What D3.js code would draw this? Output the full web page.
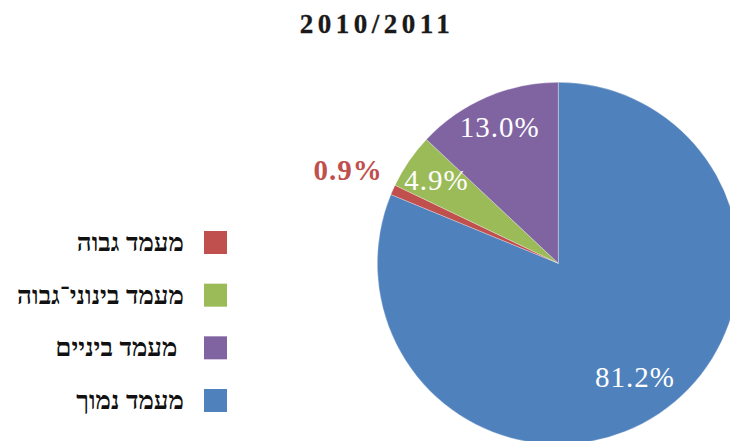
<!DOCTYPE html>
<html>
<head>
<meta charset="utf-8">
<script src="https://cdn.jsdelivr.net/npm/d3@7"></script>
<style>
  html, body { margin: 0; padding: 0; background: #fff; }
  svg { display: block; }
</style>
</head>
<body>
<svg id="chart" width="730" height="441"></svg>
<script>
const title = "2010/2011";
const categories = ["מעמד נמוך", "מעמד גבוה", "מעמד בינוני־גבוה", "מעמד ביניים"];
const values = [81.2, 0.9, 4.9, 13.0];
const colors = ["#4F81BD", "#C0504D", "#9BBB59", "#8064A2"];
const legendOrder = ["מעמד גבוה", "מעמד בינוני־גבוה", "מעמד ביניים", "מעמד נמוך"];

const svg = d3.select("#chart");
const cx = 558.3, cy = 263.3, R = 181;
const color = d3.scaleOrdinal().domain(categories).range(colors);

svg.append("text")
  .attr("x", 377).attr("y", 33)
  .attr("text-anchor", "middle")
  .attr("font-family", "Liberation Serif, serif")
  .attr("font-weight", "bold")
  .attr("font-size", 27)
  .attr("letter-spacing", 4.5)
  .attr("fill", "#1a1a1a")
  .attr("stroke", "#1a1a1a")
  .attr("stroke-width", 0.3)
  .text(title);

const data = categories.map((c, i) => ({ cat: c, value: values[i] }));
const pie = d3.pie().value(d => d.value).sort(null);
const arcs = pie(data);
const arc = d3.arc().innerRadius(0).outerRadius(R);

const g = svg.append("g").attr("transform", `translate(${cx},${cy})`);
g.selectAll("path").data(arcs).join("path")
  .attr("d", arc)
  .attr("fill", d => color(d.data.cat))
  .attr("stroke", "#ffffff")
  .attr("stroke-opacity", 0.5)
  .attr("stroke-width", 0.6);

const labelArc = d => {
  const small = d.data.value < 2;
  const r = small ? R * 1.27 : (d.data.value > 50 ? R * 0.76 : R * 0.815);
  return d3.arc().innerRadius(r).outerRadius(r).centroid(d);
};
g.selectAll("text.lbl").data(arcs).join("text")
  .attr("class", "lbl")
  .attr("x", d => labelArc(d)[0])
  .attr("y", d => labelArc(d)[1])
  .attr("dy", "0.33em")
  .attr("text-anchor", "middle")
  .attr("font-family", "Liberation Serif, serif")
  .attr("font-size", 29)
  .attr("font-weight", d => d.data.value < 2 ? "bold" : "normal")
  .attr("letter-spacing", 1)
  .attr("fill", d => d.data.value < 2 ? color(d.data.cat) : "#ffffff")
  .text(d => d3.format(".1f")(d.data.value) + "%");

const legendY = d3.scalePoint().domain(legendOrder).range([242.5, 400.5]);
const lg = svg.append("g");
const items = lg.selectAll("g").data(legendOrder).join("g")
  .attr("transform", d => `translate(0,${legendY(d)})`);
items.append("rect")
  .attr("x", 204).attr("y", -11.5)
  .attr("width", 23).attr("height", 23)
  .attr("fill", d => color(d));
items.append("text")
  .attr("x", 184).attr("y", 0)
  .attr("dy", "0.33em")
  .attr("text-anchor", "start")
  .attr("direction", "rtl")
  .style("white-space", "pre")
  .attr("font-family", "Liberation Serif, serif")
  .attr("font-weight", "bold")
  .attr("font-size", 26)
  .attr("fill", "#111")
  .text(d => d === "מעמד ביניים" ? "\u00A0" + d : d);
</script>
</body>
</html>
